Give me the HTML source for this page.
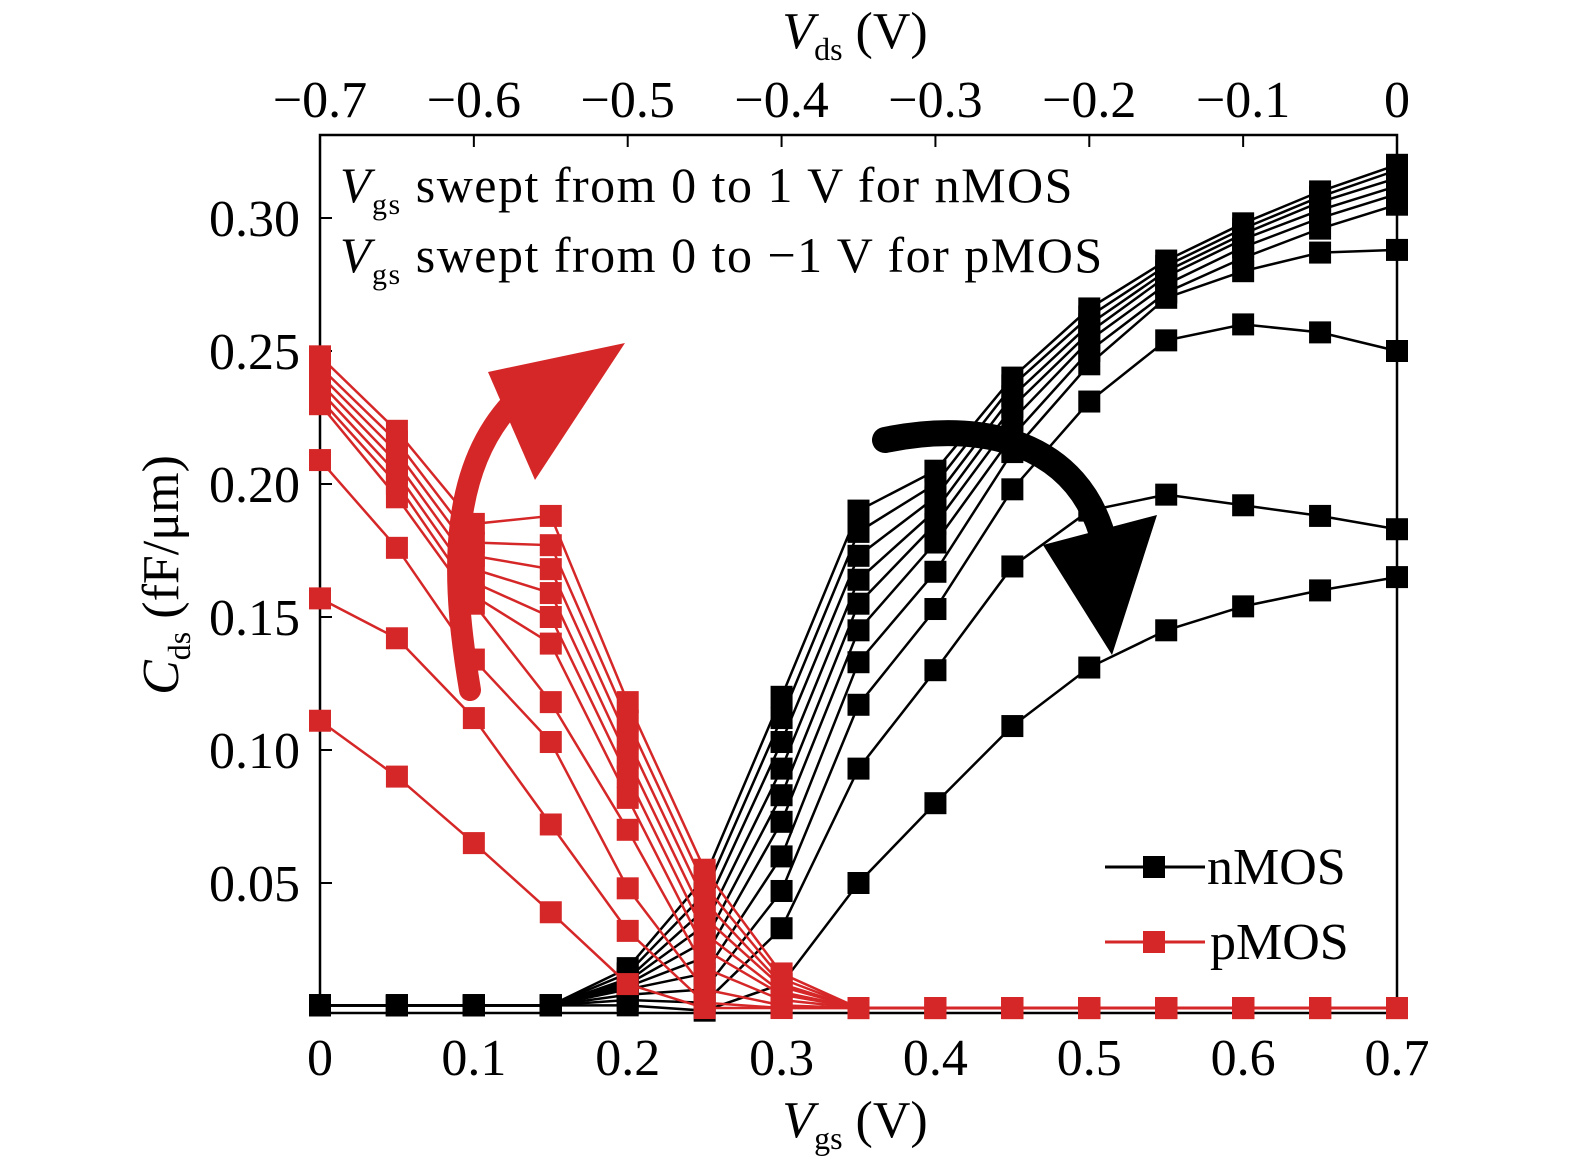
<!DOCTYPE html>
<html><head><meta charset="utf-8">
<style>
html,body{margin:0;padding:0;background:#fff;}
svg{display:block;font-family:"Liberation Serif",serif;}
</style></head>
<body>
<svg id="chart" width="1575" height="1167" viewBox="0 0 1575 1167" xmlns="http://www.w3.org/2000/svg">
<rect x="320" y="135" width="1077" height="878" fill="none" stroke="#000" stroke-width="2.5"/>
<g id="grid"></g>
<g id="series"></g>
<path d="M470,690 C455,600 440,470 520,395" fill="none" stroke="#d62728" stroke-width="22" stroke-linecap="round"/>
<polygon points="625,343 488,372 535,480" fill="#d62728"/>
<path d="M885,440 C980,420 1080,440 1105,545" fill="none" stroke="#000" stroke-width="26" stroke-linecap="round"/>
<polygon points="1112,655 1043,545 1157,515" fill="#000"/>
<g font-size="50" letter-spacing="1.5">
<text x="340" y="202"><tspan font-style="italic">V</tspan><tspan font-size="30" dy="12">gs</tspan><tspan dy="-12"> swept from 0 to 1 V for nMOS</tspan></text>
<text x="340" y="272"><tspan font-style="italic">V</tspan><tspan font-size="30" dy="12">gs</tspan><tspan dy="-12"> swept from 0 to −1 V for pMOS</tspan></text>
</g>
<g>
<line x1="1105" y1="867" x2="1205" y2="867" stroke="#000" stroke-width="3"/>
<rect x="1143" y="856" width="22" height="22" fill="#000"/>
<text x="1207" y="884" font-size="52">nMOS</text>
<line x1="1105" y1="942" x2="1205" y2="942" stroke="#d62728" stroke-width="3"/>
<rect x="1143" y="931" width="22" height="22" fill="#d62728"/>
<text x="1210" y="959" font-size="52">pMOS</text>
</g>
<text x="855" y="1137" font-size="52" text-anchor="middle"><tspan font-style="italic">V</tspan><tspan font-size="32" dy="12">gs</tspan><tspan dy="-12"> (V)</tspan></text>
<text x="855" y="48" font-size="52" text-anchor="middle"><tspan font-style="italic">V</tspan><tspan font-size="32" dy="12">ds</tspan><tspan dy="-12"> (V)</tspan></text>
<text transform="translate(178,575) rotate(-90)" font-size="52" text-anchor="middle"><tspan font-style="italic">C</tspan><tspan font-size="32" dy="12">ds</tspan><tspan dy="-12"> (fF/μm)</tspan></text>
</svg>
<script>
const xs=[0,0.05,0.1,0.15,0.2,0.25,0.3,0.35,0.4,0.45,0.5,0.55,0.6,0.65,0.7];
const n1=[.004,.004,.004,.004,.004,.002,.012,.05,.08,.109,.131,.145,.154,.16,.165];
const n2=[.004,.004,.004,.004,.006,.005,.033,.093,.13,.169,.19,.196,.192,.188,.183];
const n3=[.004,.004,.004,.004,.008,.01,.047,.117,.153,.198,.231,.254,.26,.257,.25];
const n4=[.004,.004,.004,.004,.01,.016,.06,.133,.167,.212,.245,.27,.28,.287,.288];
const n5=[.004,.004,.004,.004,.011,.022,.073,.145,.178,.218,.25,.272,.285,.296,.305];
const n6=[.004,.004,.004,.004,.012,.028,.083,.155,.185,.224,.254,.275,.289,.3,.309];
const n7=[.004,.004,.004,.004,.013,.034,.093,.164,.19,.229,.257,.278,.292,.303,.312];
const n8=[.004,.004,.004,.004,.014,.04,.103,.173,.195,.233,.26,.28,.294,.306,.315];
const n9=[.004,.004,.004,.004,.016,.046,.112,.182,.2,.237,.263,.282,.296,.308,.318];
const n10=[.004,.004,.004,.004,.018,.052,.12,.19,.205,.24,.266,.284,.298,.31,.32];
const p1=[.111,.09,.065,.039,.012,.003,.003,.003,.003,.003,.003,.003,.003,.003,.003];
const p2=[.157,.142,.112,.072,.032,.005,.003,.003,.003,.003,.003,.003,.003,.003,.003];
const p3=[.209,.176,.134,.103,.048,.01,.004,.003,.003,.003,.003,.003,.003,.003,.003];
const p4=[.23,.195,.155,.118,.07,.018,.006,.003,.003,.003,.003,.003,.003,.003,.003];
const p5=[.232,.2,.158,.14,.082,.025,.008,.003,.003,.003,.003,.003,.003,.003,.003];
const p6=[.235,.204,.163,.15,.09,.031,.009,.003,.003,.003,.003,.003,.003,.003,.003];
const p7=[.238,.208,.168,.159,.097,.037,.011,.003,.003,.003,.003,.003,.003,.003,.003];
const p8=[.241,.212,.173,.168,.104,.043,.012,.003,.003,.003,.003,.003,.003,.003,.003];
const p9=[.244,.216,.178,.177,.111,.049,.014,.003,.003,.003,.003,.003,.003,.003,.003];
const p10=[.248,.22,.185,.188,.118,.055,.016,.003,.003,.003,.003,.003,.003,.003,.003];
const xTicks=[0,0.1,0.2,0.3,0.4,0.5,0.6,0.7];
const xTickLabels=["0","0.1","0.2","0.3","0.4","0.5","0.6","0.7"];
const topTickLabels=["−0.7","−0.6","−0.5","−0.4","−0.3","−0.2","−0.1","0"];
const yTicks=[0.05,0.10,0.15,0.20,0.25,0.30];
const yTickLabels=["0.05","0.10","0.15","0.20","0.25","0.30"];
const nSeries=[n1,n2,n3,n4,n5,n6,n7,n8,n9,n10];
const pSeries=[p1,p2,p3,p4,p5,p6,p7,p8,p9,p10];

const NS="http://www.w3.org/2000/svg";
const X=v=>320+v/0.7*1077;
const Y=v=>1016-v/0.05*133;
const grid=document.getElementById('grid');
const sg=document.getElementById('series');
function mk(tag,attrs,parent){const e=document.createElementNS(NS,tag);for(const k in attrs)e.setAttribute(k,attrs[k]);parent.appendChild(e);return e;}
xTicks.forEach((t,i)=>{
  const l=mk('line',{x1:X(t),x2:X(t),y1:1013,y2:1001,stroke:'#000','stroke-width':2},grid);
  
  
  const l2=mk('line',{x1:X(t),x2:X(t),y1:135,y2:147,stroke:'#000','stroke-width':2},grid);
  
  
  const tx=mk('text',{x:X(t),y:1075,'font-size':52,'text-anchor':'middle'},grid);
  tx.textContent=xTickLabels[i];
  
  
  const tt=mk('text',{x:X(t),y:117,'font-size':52,'text-anchor':'middle'},grid);
  tt.textContent=topTickLabels[i];
  
  
});
yTicks.forEach((t,i)=>{
  const l=mk('line',{x1:320,x2:332,y1:Y(t),y2:Y(t),stroke:'#000','stroke-width':2},grid);
  
  
  const tx=mk('text',{x:300,y:Y(t)+18,'font-size':52,'text-anchor':'end'},grid);
  tx.textContent=yTickLabels[i];
  
  
});
function draw(arr,color,name){
  const g=mk('g',{},sg);
  
  
  const pts=arr.map((v,i)=>X(xs[i])+','+Y(v)).join(' ');
  const pl=mk('polyline',{points:pts,fill:'none',stroke:color,'stroke-width':2.5},g);
  
  
  arr.forEach((v,i)=>{
    const r=mk('rect',{x:X(xs[i])-11,y:Y(v)-11,width:22,height:22,fill:color},g);
    
    
  });
}
nSeries.forEach((s,i)=>draw(s,'#000','nmos-series-'+(i+1)));
pSeries.forEach((s,i)=>draw(s,'#d62728','pmos-series-'+(i+1)));
</script>
</body></html>
